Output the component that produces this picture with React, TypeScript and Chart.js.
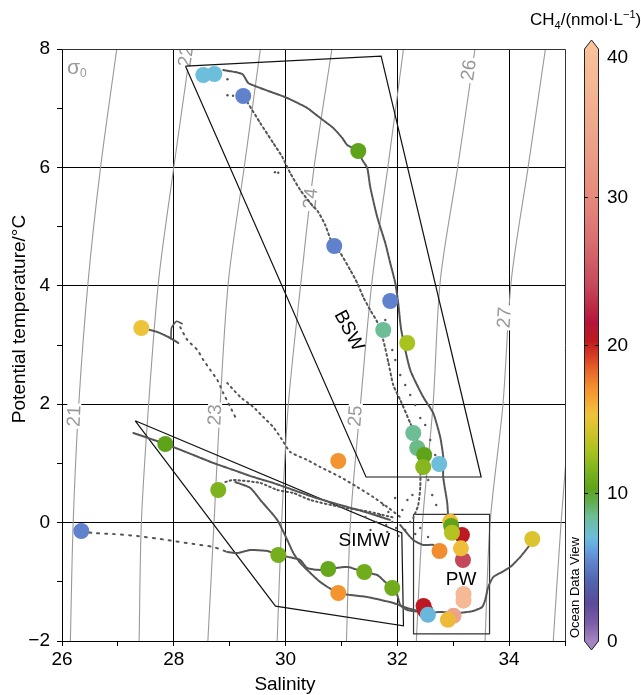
import React, { useEffect, useRef } from 'react';
import { Chart, registerables } from 'chart.js';

Chart.register(...registerables);

const FONT = '"Liberation Sans", Arial, Helvetica, sans-serif';

// ---------- axes ----------
const salinityRange = [26, 35];
const temperatureRange = [-2, 8];
const ch4Range = [0, 40];
const colorbarTicks = [0, 10, 20, 30, 40];

// ---------- isopycnals (sigma0): salinity read at these temperatures ----------
const isoTemps = [8, 6, 4.1, 2, 0, -2];
const iso21 = [26.98, 26.69, 26.47, 26.3, 26.2, 26.15];
const iso22 = [28.3, 28.0, 27.73, 27.55, 27.42, 27.38];
const iso23 = [29.55, 29.26, 28.98, 28.83, 28.72, 28.61];
const iso24 = [30.83, 30.51, 30.28, 30.05, 29.93, 29.85];
const iso25 = [32.11, 31.83, 31.55, 31.34, 31.16, 31.09];
const iso26 = [33.39, 33.08, 32.77, 32.64, 32.45, 32.34];
const iso27 = [34.65, 34.34, 34.04, 33.89, 33.66, 33.57];
const iso28 = [35.9, 35.6, 35.3, 35.1, 34.93, 34.79];
const isoLevels = [21, 22, 23, 24, 25, 26, 27, 28];
const isoSalinities = [iso21, iso22, iso23, iso24, iso25, iso26, iso27, iso28];
// [sigma, S, T] of the contour labels
const isoLabels: [number, number, number][] = [
  [21, 26.21, 1.8],
  [22, 28.21, 7.88],
  [23, 28.73, 1.82],
  [24, 30.44, 5.475],
  [25, 31.24, 1.8],
  [26, 33.27, 7.645],
  [27, 33.91, 3.465],
];

// ---------- water mass polygons ----------
const bswS = [28.21, 31.71, 33.5, 31.44, 28.21];
const bswT = [7.71, 7.88, 0.77, 0.77, 7.71];
const simwS = [27.31, 32.08, 32.11, 29.82, 27.31];
const simwT = [1.72, -0.176, -1.742, -1.41, 1.72];
const pwS = [32.29, 33.65, 33.65, 32.29, 32.29];
const pwT = [0.14, 0.14, -1.88, -1.88, 0.14];
// [text, S, T, rotation deg]
const waterMassLabels: [string, number, number, number][] = [
  ['BSW', 31.13, 3.24, 62],
  ['SIMW', 31.41, -0.31, 0],
  ['PW', 33.14, -0.97, 0],
];

// ---------- CTD profile tracks (salinity, potential temperature) ----------
const trackBswMain: [number, number][] = [
  [28.885, 7.645], [29.225, 7.578], [29.333, 7.426], [29.547, 7.341], [30.03, 7.172],
  [30.388, 7.003], [30.621, 6.834], [30.853, 6.666], [31.014, 6.497], [31.104, 6.378],
  [31.301, 6.277], [31.372, 6.125], [31.462, 5.99], [31.515, 5.669], [31.64, 5.162],
  [31.784, 4.723], [31.873, 4.385], [31.963, 4.047], [32.016, 3.709], [32.07, 3.253],
  [32.231, 2.578], [32.463, 2.122], [32.642, 1.851], [32.767, 1.446], [32.821, 1.108],
  [32.821, 0.77], [32.893, 0.331], [32.911, 0.044],
];
const trackBswSecond: [number, number][] = [
  [29.315, 7.105], [29.547, 6.75], [29.78, 6.412], [29.941, 6.176], [30.084, 5.905],
  [30.263, 5.618], [30.442, 5.399], [30.585, 5.247], [30.71, 5.027], [30.853, 4.672],
  [30.979, 4.554], [31.158, 4.267], [31.283, 4.047], [31.39, 3.811], [31.515, 3.591],
  [31.64, 3.389], [31.748, 3.084], [31.838, 2.713], [31.927, 2.324], [32.052, 2.071],
  [32.231, 1.682], [32.356, 1.395], [32.41, 0.973], [32.41, 0.601], [32.374, 0.297],
  [32.285, 0.078],
];
const trackWarmFresh: [number, number][] = [
  [27.419, 3.287], [27.705, 3.22], [27.938, 3.118], [28.081, 3.034],
];
const trackHook: [number, number][] = [
  [27.95, 3.1], [27.96, 3.29], [28.05, 3.4], [28.15, 3.36],
];
const trackWarmDotsA: [number, number][] = [
  [28.117, 3.3], [28.243, 3.084], [28.422, 2.916], [28.529, 2.747], [28.654, 2.578],
  [28.779, 2.409], [28.886, 2.189], [29.011, 1.953], [29.101, 1.784],
];
const trackWarmDotsB: [number, number][] = [
  [28.957, 2.358], [29.19, 2.122], [29.422, 1.953], [29.601, 1.784], [29.78, 1.615],
  [29.941, 1.395], [30.084, 1.193], [30.388, 1.057], [30.621, 0.939], [30.979, 0.77],
  [31.283, 0.601], [31.569, 0.432], [31.82, 0.264], [32.052, 0.095],
];
const trackMid: [number, number][] = [
  [27.277, 1.514], [27.85, 1.328], [28.351, 1.142], [28.708, 1.007], [29.066, 0.889],
  [29.423, 0.77], [29.781, 0.669], [30.139, 0.551], [30.496, 0.432], [30.979, 0.297],
  [31.426, 0.179], [31.873, 0.044],
];
const trackMidDots: [number, number][] = [
  [28.923, 0.686], [29.066, 0.72], [29.549, 0.669], [29.852, 0.551], [30.139, 0.5],
  [30.442, 0.382], [30.979, 0.264], [31.515, 0.179], [31.962, 0.078],
];
const trackDeep: [number, number][] = [
  [29.1, 0.686], [29.37, 0.584], [29.549, 0.382], [29.852, 0.044], [30.031, -0.294],
  [30.139, -0.514], [30.263, -0.682], [30.388, -0.801], [30.621, -1.003], [30.943, -1.189],
  [31.462, -1.257], [31.927, -1.358], [32.177, -1.443], [32.535, -1.527], [32.767, -1.51],
  [33.071, -1.527], [33.357, -1.493], [33.518, -1.426], [33.572, -1.307], [33.626, -1.088],
  [33.716, -0.919], [33.841, -0.851], [34.02, -0.75], [34.199, -0.581], [34.342, -0.412],
  [34.414, -0.294],
];
const trackColdDots: [number, number][] = [
  [26.345, -0.142], [26.56, -0.176], [26.918, -0.193], [27.347, -0.226], [27.884, -0.294],
  [28.349, -0.361], [28.707, -0.412], [28.957, -0.497],
];
const trackCold: [number, number][] = [
  [28.957, -0.497], [29.136, -0.514], [29.369, -0.463], [29.673, -0.48], [29.87, -0.547],
  [30.139, -0.598], [30.263, -0.632], [30.388, -0.767], [30.621, -0.801], [30.764, -0.784],
  [31.104, -0.75], [31.408, -0.834], [31.64, -0.885], [31.784, -1.003], [31.909, -1.105],
  [31.998, -1.223], [32.052, -1.392], [32.177, -1.476], [32.41, -1.51],
];
const trackPw: [number, number][] = [
  [32.052, -0.041], [32.285, -0.294], [32.464, -0.378], [32.643, -0.378], [32.75, -0.48],
];
const strayDots: [number, number][] = [
  [31.75, 0.297], [31.84, 0.179], [31.91, 0.01], [31.98, -0.091], [31.8, -0.041],
  [32.09, 0.213], [32.14, -0.125], [32.02, -0.226], [32.23, 0.01], [32.41, -0.091],
  [32.55, -0.243], [31.96, 0.416], [31.69, 0.128], [31.62, 0.01], [31.43, 0.095],
  [31.52, -0.125], [32.18, 0.382], [32.27, 0.466], [31.82, -0.159], [32.32, -0.193],
  [28.96, 7.49], [29.06, 7.21], [28.96, 7.22], [29.81, 5.92], [29.87, 5.91],
  [31.784, 3.422], [31.838, 3.169], [31.909, 2.916], [31.963, 2.747], [32.052, 2.493],
  [32.141, 2.324], [32.231, 2.155], [32.32, 1.986], [32.41, 1.767], [32.499, 1.649],
  [32.589, 1.395], [32.678, 1.142], [32.732, 0.889], [32.553, 0.72], [32.624, 0.466],
  [32.696, 0.297],
];

// ---------- CH4 samples ----------
const sampleS = [
  28.528, 28.725, 29.243, 31.301, 30.871, 31.873, 31.748, 32.177, 32.285, 32.356,
  32.481, 32.463, 32.75, 30.943, 27.419, 27.848, 28.796, 26.345, 29.87, 30.764,
  31.408, 31.909, 30.943, 33.156, 32.946, 32.964, 32.977, 33.174, 33.138, 32.755,
  33.184, 33.184, 32.469, 32.499, 32.547, 33.005, 32.905, 34.414,
];
const sampleT = [
  7.561, 7.578, 7.206, 6.277, 4.672, 3.743, 3.253, 3.034, 1.514, 1.26,
  1.142, 0.939, 0.99, 1.041, 3.287, 1.328, 0.551, -0.142, -0.547, -0.784,
  -0.834, -1.105, -1.189, -0.209, 0.015, -0.057, -0.171, -0.632, -0.434, -0.48,
  -1.206, -1.319, -1.409, -1.488, -1.557, -1.574, -1.642, -0.277,
];
const sampleCH4 = [
  7.0, 7.0, 5.3, 10.3, 5.3, 5.3, 8.4, 12.8, 8.4, 8.6,
  10.3, 11.8, 7.0, 17.0, 15.3, 10.3, 11.5, 5.3, 11.2, 10.6,
  11.0, 11.0, 17.0, 20.5, 15.5, 10.3, 13.2, 24.0, 15.5, 17.2,
  38.0, 38.0, 20.5, 20.5, 6.8, 34.0, 15.6, 14.5,
];

// ---------- colour map (ODV-like) ----------
const CMAP: [number, string][] = [
  [0, '#a386c0'], [1.2, '#7b5da8'], [2.5, '#5b4b98'], [4, '#5263ad'], [5.3, '#6082cd'],
  [6.2, '#64a2e0'], [7, '#6cbedb'], [8.4, '#6dbd96'], [9.4, '#62ad50'], [10.3, '#5ea31a'],
  [11.5, '#7db31e'], [12.8, '#a8c21e'], [14.3, '#d6c42c'], [15.3, '#eec33c'], [16.2, '#f3a934'],
  [17, '#f39430'], [18.2, '#e8692a'], [19.3, '#d63a22'], [20.3, '#be1a1e'], [21.5, '#b5143a'],
  [24, '#c5485a'], [27, '#d96e70'], [30, '#e68a7c'], [34, '#eca48a'], [38, '#f5b995'],
  [40, '#f8c29a'],
];

function hexRgb(h: string) {
  const n = parseInt(h.slice(1), 16);
  return [(n >> 16) & 255, (n >> 8) & 255, n & 255];
}
function ch4Color(v: number) {
  if (v <= CMAP[0][0]) return CMAP[0][1];
  for (let i = 0; i < CMAP.length - 1; i++) {
    const [v0, c0] = CMAP[i];
    const [v1, c1] = CMAP[i + 1];
    if (v <= v1) {
      const f = (v - v0) / (v1 - v0);
      const a = hexRgb(c0), b = hexRgb(c1);
      const r = a.map((x, k) => Math.round(x + (b[k] - x) * f));
      return `rgb(${r[0]},${r[1]},${r[2]})`;
    }
  }
  return CMAP[CMAP.length - 1][1];
}

const pts = (arr: [number, number][]) => arr.map(([x, y]) => ({ x, y }));
const zipPts = (S: number[], T: number[]) => S.map((x, i) => ({ x, y: T[i] }));

const TRACK = '#555555';

function buildDatasets() {
  const ds: any[] = [];
  ds.push({
    label: 'samples',
    data: zipPts(sampleS, sampleT),
    pointRadius: 8,
    pointBackgroundColor: sampleCH4.map(ch4Color),
    pointBorderWidth: 0,
    pointBorderColor: 'rgba(0,0,0,0)',
    showLine: false,
  });
  const line = (label: string, arr: [number, number][], dash: number[] = [], width = 2) => ({
    label,
    data: pts(arr),
    showLine: true,
    pointRadius: 0,
    borderColor: TRACK,
    borderWidth: width,
    borderDash: dash,
    borderCapStyle: 'round',
    borderJoinStyle: 'round',
    tension: 0.2,
  });
  ds.push(line('bswMain', trackBswMain, [3, 1]));
  ds.push(line('bswSecond', trackBswSecond, [2, 3]));
  ds.push(line('warm', trackWarmFresh, [3, 1]));
  ds.push(line('hook', trackHook, [], 1.6));
  ds.push(line('warmDotsA', trackWarmDotsA, [1.5, 5], 2));
  ds.push(line('warmDotsB', trackWarmDotsB, [1.5, 4], 2));
  ds.push(line('mid', trackMid, [3, 1]));
  ds.push(line('midDots', trackMidDots, [1.5, 3], 2));
  ds.push(line('deep', trackDeep, [3, 1]));
  ds.push(line('coldDots', trackColdDots, [2, 6], 2));
  ds.push(line('cold', trackCold, [3, 1]));
  ds.push(line('pw', trackPw, [3, 1]));
  ds.push({
    label: 'stray',
    data: pts(strayDots),
    showLine: false,
    pointRadius: 1.2,
    pointBackgroundColor: TRACK,
    pointBorderWidth: 0,
  });
  const poly = (label: string, S: number[], T: number[], color: string) => ({
    label,
    data: zipPts(S, T),
    showLine: true,
    pointRadius: 0,
    borderColor: color,
    borderWidth: 1.2,
    tension: 0,
  });
  ds.push(poly('BSW', bswS, bswT, '#111'));
  ds.push(poly('SIMW', simwS, simwT, '#111'));
  ds.push(poly('PW', pwS, pwT, '#333'));
  const isoStart = ds.length;
  isoSalinities.forEach((S, i) => {
    ds.push({
      label: 'iso' + isoLevels[i],
      data: zipPts(S, isoTemps),
      showLine: true,
      pointRadius: 0,
      borderColor: '#999999',
      borderWidth: 1.1,
      tension: 0.3,
    });
  });
  return { ds, isoStart };
}

function isoAngle(chart: any, idx: number, T: number) {
  const S = isoSalinities[idx];
  let i = 0;
  while (i < isoTemps.length - 2 && isoTemps[i + 1] > T) i++;
  const xs = chart.scales.x, ys = chart.scales.y;
  const xa = xs.getPixelForValue(S[i + 1]), ya = ys.getPixelForValue(isoTemps[i + 1]);
  const xb = xs.getPixelForValue(S[i]), yb = ys.getPixelForValue(isoTemps[i]);
  return Math.atan2(yb - ya, xb - xa);
}

export default function App() {
  const ref = useRef<HTMLCanvasElement>(null);
  useEffect(() => {
    const { ds, isoStart } = buildDatasets();

    const decor = {
      id: 'decor',
      afterDatasetDraw(chart: any, args: any) {
        if (args.index !== isoStart) return;
        const { ctx, chartArea } = chart;
        ctx.save();
        ctx.beginPath();
        ctx.rect(chartArea.left, chartArea.top, chartArea.right - chartArea.left, chartArea.bottom - chartArea.top);
        ctx.clip();
        ctx.font = `19px ${FONT}`;
        ctx.textAlign = 'center';
        ctx.textBaseline = 'middle';
        isoLabels.forEach(([sig, S, T]) => {
          const idx = isoLevels.indexOf(sig);
          const px = chart.scales.x.getPixelForValue(S);
          const py = chart.scales.y.getPixelForValue(T);
          const ang = isoAngle(chart, idx, T);
          const txt = String(sig);
          const w = ctx.measureText(txt).width;
          ctx.save();
          ctx.translate(px, py);
          ctx.rotate(ang);
          ctx.fillStyle = '#fff';
          ctx.fillRect(-w / 2 - 2, -7, w + 4, 14);
          ctx.fillStyle = '#999999';
          ctx.fillText(txt, 0, 1);
          ctx.restore();
        });
        // sigma0 symbol
        ctx.fillStyle = '#999999';
        ctx.textAlign = 'left';
        ctx.textBaseline = 'alphabetic';
        ctx.font = `21px ${FONT}`;
        ctx.fillText('σ', chartArea.left + 5, chartArea.top + 25);
        ctx.font = `12px ${FONT}`;
        ctx.fillText('0', chartArea.left + 18, chartArea.top + 28);
        ctx.restore();
      },
      afterDatasetsDraw(chart: any) {
        const { ctx } = chart;
        const xs = chart.scales.x, ys = chart.scales.y;
        ctx.save();
        ctx.fillStyle = '#000';
        ctx.font = `19px ${FONT}`;
        ctx.textAlign = 'center';
        ctx.textBaseline = 'middle';
        waterMassLabels.forEach(([t, S, T, rot]) => {
          ctx.save();
          ctx.translate(xs.getPixelForValue(S), ys.getPixelForValue(T));
          ctx.rotate((rot * Math.PI) / 180);
          ctx.fillText(t, 0, 0);
          ctx.restore();
        });
        ctx.restore();
      },
      afterDraw(chart: any) {
        const { ctx, chartArea } = chart;
        ctx.save();
        // frame top & right
        ctx.strokeStyle = '#333';
        ctx.lineWidth = 1;
        ctx.beginPath();
        ctx.moveTo(chartArea.left, chartArea.top + 0.5);
        ctx.lineTo(chartArea.right + 0.5, chartArea.top + 0.5);
        ctx.lineTo(chartArea.right + 0.5, chartArea.bottom);
        ctx.stroke();

        // axis titles
        ctx.fillStyle = '#000';
        ctx.font = `19px ${FONT}`;
        ctx.textAlign = 'center';
        ctx.textBaseline = 'alphabetic';
        ctx.fillText('Salinity', 285, 690);
        ctx.save();
        ctx.translate(25, 319);
        ctx.rotate(-Math.PI / 2);
        ctx.fillText('Potential temperature/°C', 0, 0);
        ctx.restore();

        // colour bar
        const cb = chart.scales.cb;
        const x0 = 584, x1 = 599, xm = (x0 + x1) / 2;
        const yTop = cb.getPixelForValue(ch4Range[1]);
        const yBot = cb.getPixelForValue(ch4Range[0]);
        const grad = ctx.createLinearGradient(0, yBot, 0, yTop);
        CMAP.forEach(([v, c]) => grad.addColorStop((v - ch4Range[0]) / (ch4Range[1] - ch4Range[0]), c));
        ctx.fillStyle = grad;
        ctx.fillRect(x0, yTop, x1 - x0, yBot - yTop);
        ctx.fillStyle = CMAP[CMAP.length - 1][1];
        ctx.beginPath();
        ctx.moveTo(x0, yTop); ctx.lineTo(xm, yTop - 9); ctx.lineTo(x1, yTop); ctx.closePath();
        ctx.fill();
        ctx.fillStyle = CMAP[0][1];
        ctx.beginPath();
        ctx.moveTo(x0, yBot); ctx.lineTo(xm, yBot + 9); ctx.lineTo(x1, yBot); ctx.closePath();
        ctx.fill();
        ctx.strokeStyle = '#222';
        ctx.lineWidth = 1;
        ctx.beginPath();
        ctx.moveTo(x0 + 0.5, yTop);
        ctx.lineTo(xm, yTop - 9);
        ctx.lineTo(x1 - 0.5, yTop);
        ctx.lineTo(x1 - 0.5, yBot);
        ctx.lineTo(xm, yBot + 9);
        ctx.lineTo(x0 + 0.5, yBot);
        ctx.closePath();
        ctx.stroke();
        ctx.strokeStyle = '#000';
        colorbarTicks.forEach((v) => {
          if (v === ch4Range[0] || v === ch4Range[1]) return;
          const y = Math.round(cb.getPixelForValue(v)) + 0.5;
          ctx.beginPath();
          ctx.moveTo(x0, y); ctx.lineTo(x0 + 4, y);
          ctx.moveTo(x1 - 4, y); ctx.lineTo(x1, y);
          ctx.stroke();
        });
        ctx.fillStyle = '#000';
        ctx.font = `19px ${FONT}`;
        ctx.textAlign = 'left';
        ctx.textBaseline = 'middle';
        colorbarTicks.forEach((v) => {
          let y = cb.getPixelForValue(v);
          if (v === ch4Range[1]) y += 8;
          ctx.fillText(String(v), 607, y + 1);
        });

        // colour bar title
        ctx.textBaseline = 'alphabetic';
        let x = 530;
        const by = 25;
        const part = (t: string, size: number, dy: number) => {
          ctx.font = `${size}px ${FONT}`;
          ctx.fillText(t, x, by + dy);
          x += ctx.measureText(t).width;
        };
        part('CH', 17, 0);
        part('4', 11, 4);
        part('/(nmol·L', 17, 0);
        part('−1', 11, -7);
        part(')', 17, 0);

        // ODV credit
        ctx.save();
        ctx.translate(579, 638);
        ctx.rotate(-Math.PI / 2);
        ctx.font = `13px ${FONT}`;
        ctx.fillText('Ocean Data View', 0, 0);
        ctx.restore();
        ctx.restore();
      },
    };

    const tickFont = { family: FONT, size: 19 };
    const chart = new Chart(ref.current as HTMLCanvasElement, {
      type: 'scatter',
      data: { datasets: ds },
      options: {
        animation: false,
        responsive: false,
        events: [],
        layout: { padding: { top: 49, left: 0, right: 0, bottom: 0 } },
        plugins: { legend: { display: false }, tooltip: { enabled: false } },
        scales: {
          x: {
            type: 'linear',
            position: 'bottom',
            min: salinityRange[0],
            max: salinityRange[1],
            afterFit: (s: any) => { s.height = 54; },
            ticks: {
              stepSize: 1,
              autoSkip: false,
              maxRotation: 0,
              padding: 2,
              color: '#000',
              font: tickFont,
              callback: (v: any) => {
                const n = Math.round(Number(v));
                return n % 2 === 0 && n < salinityRange[1] ? String(n) : '';
              },
            },
            grid: {
              color: (c: any) => (c.tick && Math.round(c.tick.value) % 2 === 0 ? '#000' : 'rgba(0,0,0,0)'),
              tickColor: '#000',
              tickLength: 5,
              lineWidth: 1,
            },
            border: { display: true, color: '#000', width: 1 },
          },
          y: {
            type: 'linear',
            position: 'left',
            min: temperatureRange[0],
            max: temperatureRange[1],
            afterFit: (s: any) => { s.width = 62; },
            ticks: {
              stepSize: 1,
              autoSkip: false,
              padding: 7,
              color: '#000',
              font: tickFont,
              callback: (v: any) => {
                const n = Math.round(Number(v));
                if (Math.abs(n % 2) !== 0) return '';
                return n < 0 ? '−' + Math.abs(n) : String(n);
              },
            },
            grid: {
              color: (c: any) => (c.tick && Math.abs(Math.round(c.tick.value) % 2) === 0 ? '#000' : 'rgba(0,0,0,0)'),
              tickColor: '#000',
              tickLength: 5,
              lineWidth: 1,
            },
            border: { display: true, color: '#000', width: 1 },
          },
          cb: {
            type: 'linear',
            position: 'right',
            min: ch4Range[0],
            max: ch4Range[1],
            afterFit: (s: any) => { s.width = 76; },
            ticks: { display: false },
            grid: { display: false, drawTicks: false },
            border: { display: false },
          },
        },
      } as any,
      plugins: [decor],
    });
    return () => chart.destroy();
  }, []);

  return (
    <div style={{ position: 'fixed', left: 0, top: 0, width: 641, height: 695, background: '#fff' }}>
      <canvas ref={ref} width={641} height={695} style={{ display: 'block', width: 641, height: 695 }} />
    </div>
  );
}
